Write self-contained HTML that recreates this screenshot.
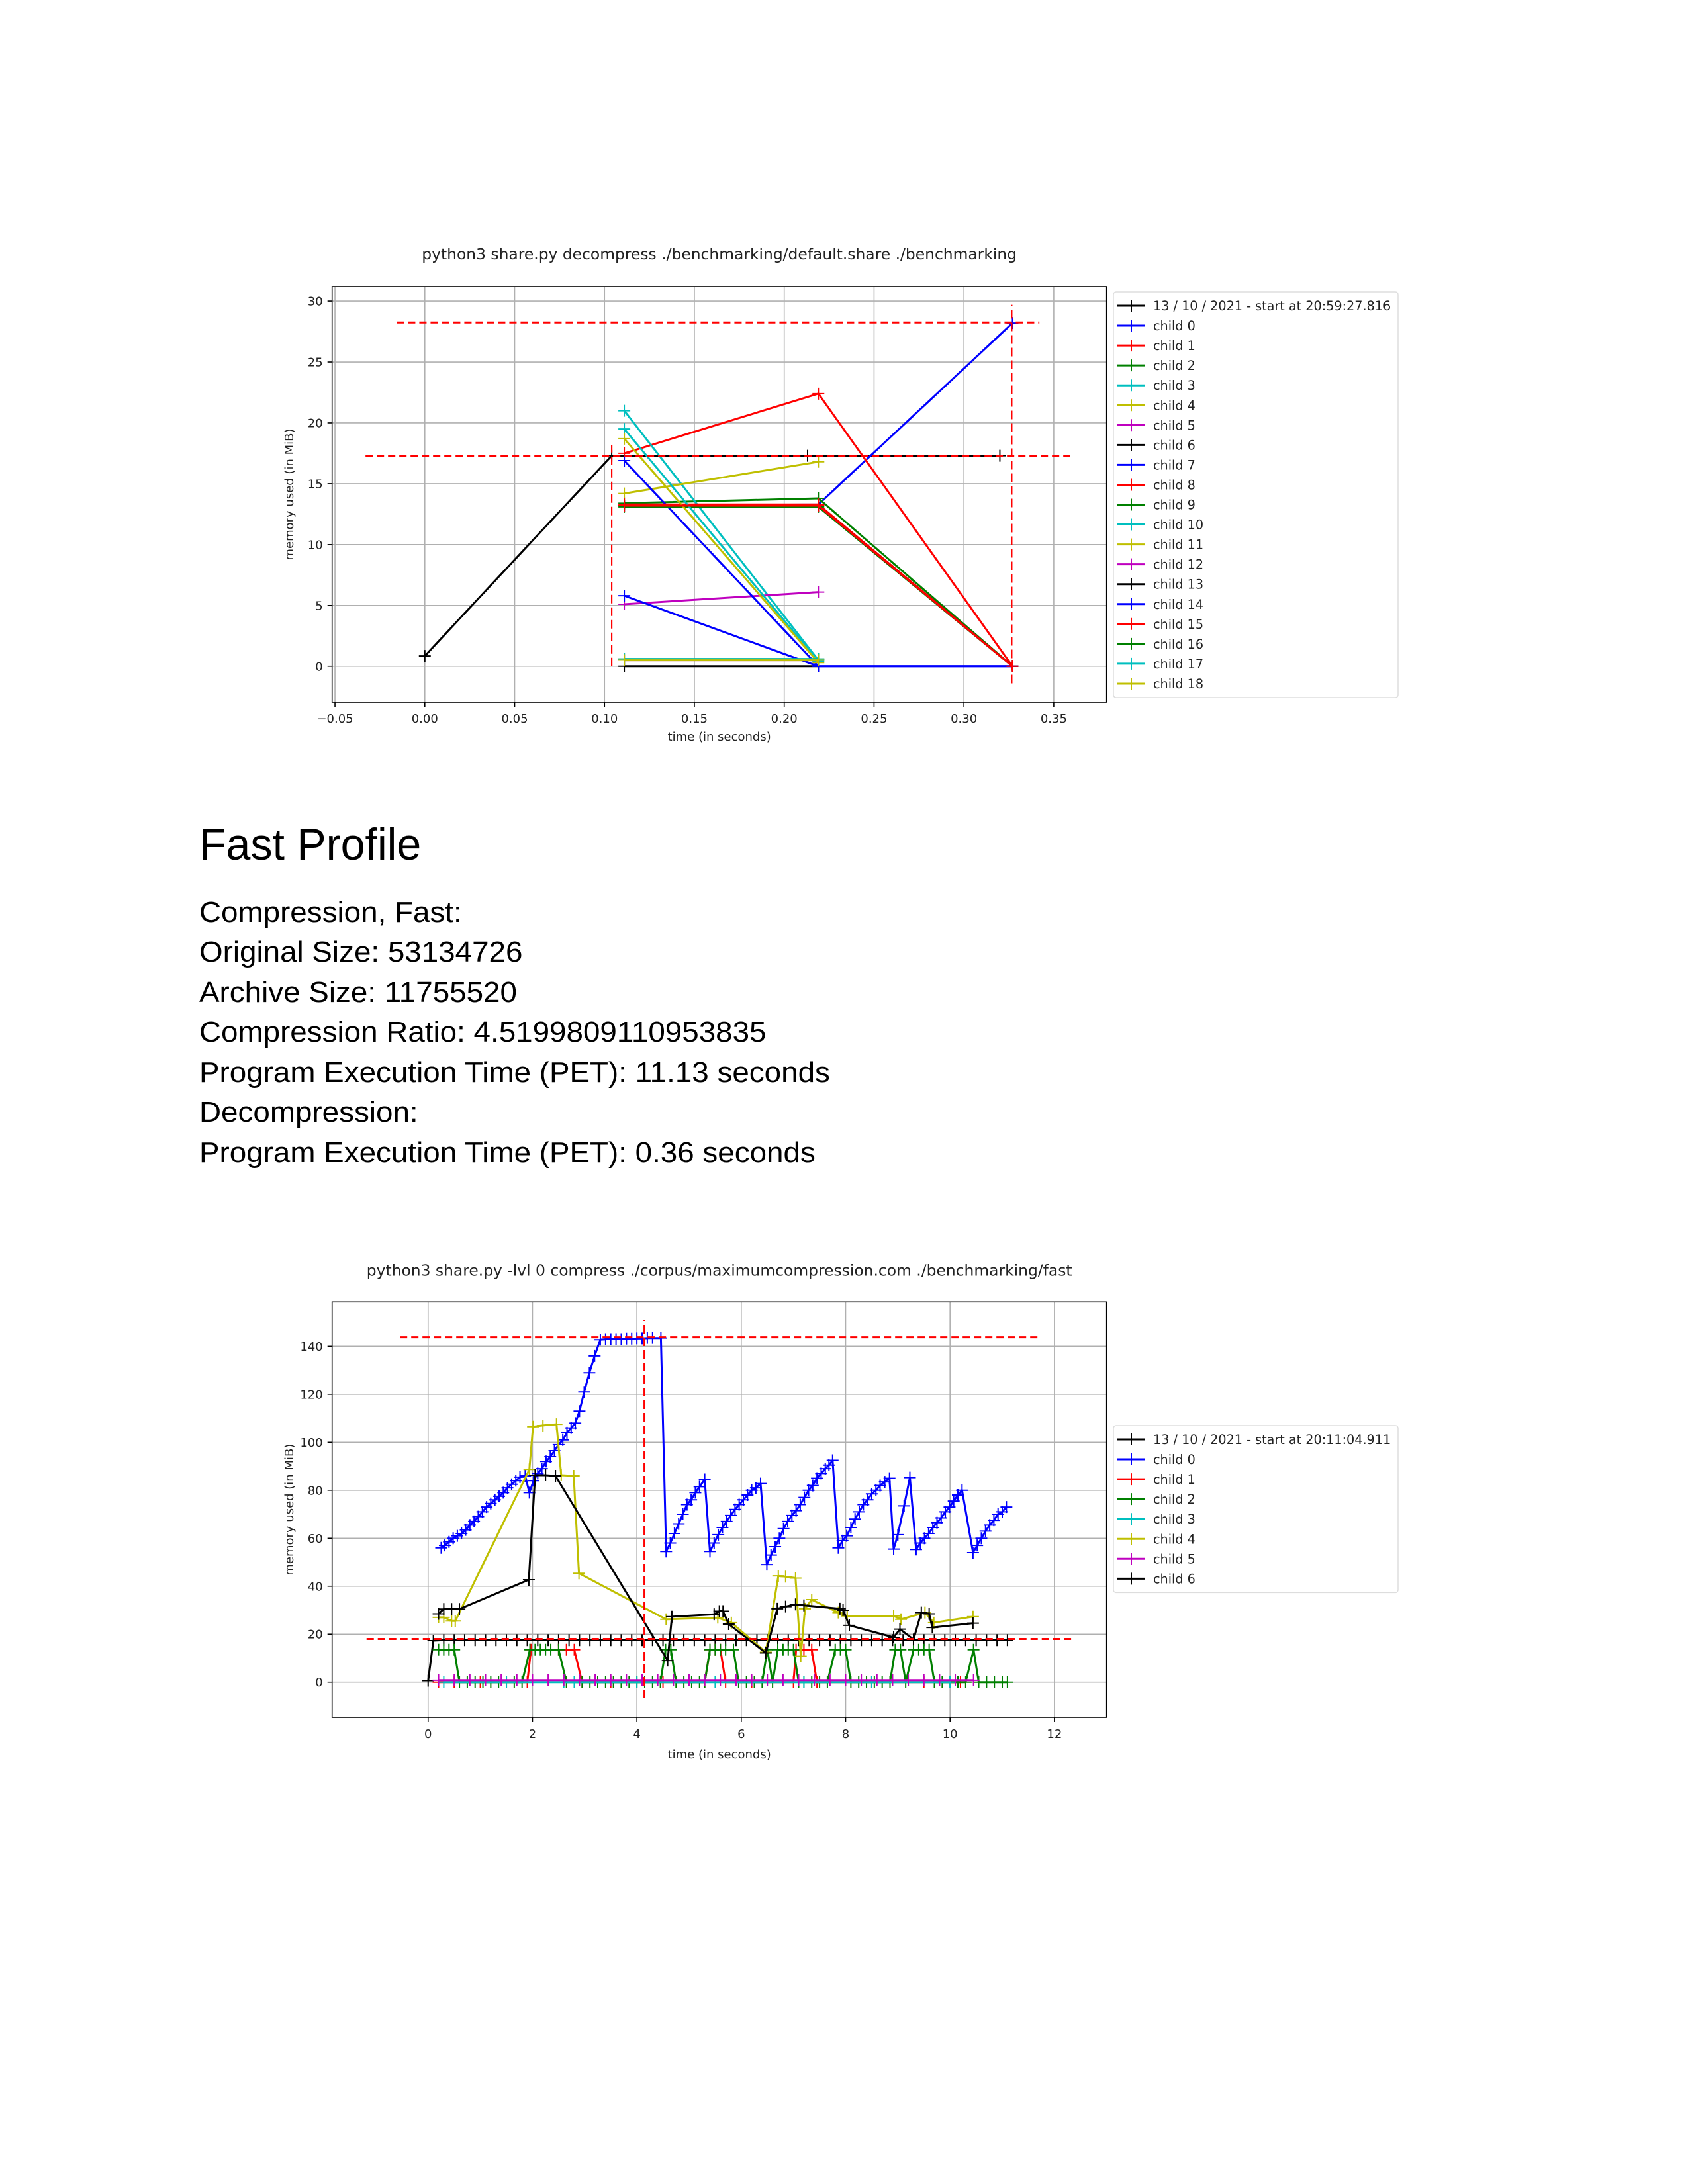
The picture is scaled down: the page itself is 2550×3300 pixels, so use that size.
<!DOCTYPE html>
<html><head><meta charset="utf-8"><title>Fast Profile benchmark</title>
<style>
html,body{margin:0;padding:0;background:#fff;}
body{width:2550px;height:3300px;position:relative;overflow:hidden;font-family:"Liberation Sans",Arial,sans-serif;}
#page{position:absolute;left:0;top:0;}
.txt{position:absolute;left:301px;font-family:"Liberation Sans",Arial,sans-serif;color:#000;white-space:nowrap;margin:0;transform-origin:0 0;}
.h{font-size:68px;line-height:68px;transform:scaleX(0.975);}
.l{font-size:44px;line-height:44px;transform:scaleX(1.04);}
</style></head>
<body>
<svg id="page" width="2550" height="3300" xmlns="http://www.w3.org/2000/svg">
  <g id="chart1"></g>
  <g id="chart2"></g>
</svg>
<div class="txt h" style="top:1242px;">Fast Profile</div>
<div class="txt l" style="top:1357px;">Compression, Fast:</div>
<div class="txt l" style="top:1417px;">Original Size: 53134726</div>
<div class="txt l" style="top:1478px;">Archive Size: 11755520</div>
<div class="txt l" style="top:1538px;">Compression Ratio: 4.5199809110953835</div>
<div class="txt l" style="top:1599px;">Program Execution Time (PET): 11.13 seconds</div>
<div class="txt l" style="top:1659px;">Decompression:</div>
<div class="txt l" style="top:1720px;">Program Execution Time (PET): 0.36 seconds</div>
<script>
// ---------- Chart 1 data ----------
const c1XTicks = [-0.05,0,0.05,0.1,0.15,0.2,0.25,0.3,0.35];
const c1XTickLabels = ["\u22120.05","0.00","0.05","0.10","0.15","0.20","0.25","0.30","0.35"];
const c1YTicks = [0,5,10,15,20,25,30];
const c1Names = ["13 / 10 / 2021 - start at 20:59:27.816","child 0","child 1","child 2","child 3","child 4","child 5","child 6","child 7","child 8","child 9","child 10","child 11","child 12","child 13","child 14","child 15","child 16","child 17","child 18"];
const c1Colors = ["#000000","#0000ff","#ff0000","#008000","#00bfbf","#bfbf00","#bf00bf","#000000","#0000ff","#ff0000","#008000","#00bfbf","#bfbf00","#bf00bf","#000000","#0000ff","#ff0000","#008000","#00bfbf","#bfbf00"];
const c1MainT = [0,0.104,0.213,0.32];
const c1MainV = [0.85,17.3,17.3,17.3];
const c1ChildT = [
 [0.111,0.219,0.327],[0.111,0.219,0.327],[0.111,0.219,0.327],[0.111,0.219],[0.111,0.219],[0.111,0.219],[0.111,0.219],
 [0.111,0.219,0.327],[0.111,0.219,0.327],[0.111,0.219,0.327],[0.111,0.219],[0.111,0.219],[0.111,0.219],[0.111,0.219,0.327],
 [0.111,0.219,0.327],[0.111,0.219,0.327],[0.111,0.219],[0.111,0.219],[0.111,0.219]];
const c1ChildV = [
 [13.2,13.3,28.2],[17.5,22.4,0],[13.4,13.8,0],[21.0,0.5],[14.2,16.8],[5.1,6.1],[0,0],
 [16.9,0,0],[13.3,13.3,0],[13.1,13.1,0],[19.5,0.4],[18.7,0.3],[0.5,0.5],[13.2,13.2,0],
 [5.8,0,0],[13.2,13.2,0],[0.6,0.6],[0.6,0.6],[0.5,0.5]];
const c1PeakH = [28.25,17.3];
const c1PeakHx = [[-0.0156,0.342],[-0.033,0.359]];
const c1PeakVx = [0.104,0.3266];
const c1PeakVy = [[0,18.2],[-1.4,29.7]];

// ---------- Chart 2 data ----------
const c2XTicks = [0,2,4,6,8,10,12];
const c2YTicks = [0,20,40,60,80,100,120,140];
const c2Names = ["13 / 10 / 2021 - start at 20:11:04.911","child 0","child 1","child 2","child 3","child 4","child 5","child 6"];
const c2Colors = ["#000000","#0000ff","#ff0000","#008000","#00bfbf","#bfbf00","#bf00bf","#000000"];
const c2MainT = [0,0.1,0.3,0.5,0.7,0.9,1.1,1.3,1.5,1.7,1.9,2.1,2.3,2.5,2.7,2.9,3.1,3.3,3.5,3.7,3.9,4.1,4.3,4.5,4.7,4.9,5.1,5.3,5.5,5.7,5.9,6.1,6.3,6.5,6.7,6.9,7.1,7.3,7.5,7.7,7.9,8.1,8.3,8.5,8.7,8.9,9.1,9.3,9.5,9.7,9.9,10.1,10.3,10.5,10.7,10.9,11.1];
const c2MainV = [0.6,17.3,17.5,17.5,17.5,17.5,17.5,17.5,17.5,17.5,17.5,17.5,17.5,17.5,17.5,17.5,17.5,17.5,17.5,17.5,17.5,17.5,17.5,17.5,17.5,17.5,17.5,17.5,17.5,17.5,17.5,17.5,17.5,17.5,17.5,17.5,17.5,17.5,17.5,17.5,17.5,17.5,17.5,17.5,17.5,17.5,17.5,17.5,17.5,17.5,17.5,17.5,17.5,17.5,17.5,17.5,17.5];
const c2Child0T = [0.25,0.32,0.4,0.48,0.56,0.64,0.72,0.8,0.88,0.96,1.04,1.12,1.2,1.28,1.36,1.44,1.52,1.6,1.68,1.76,1.86,
 1.94,2.02,2.1,2.18,2.26,2.34,2.42,2.5,2.58,2.66,2.74,2.82,2.9,2.99,3.09,3.19,3.3,
 3.4,3.5,3.6,3.7,3.8,3.9,4.0,4.1,4.2,4.3,4.46,
 4.56,4.64,4.72,4.8,4.88,4.96,5.04,5.12,5.2,5.3,
 5.4,5.48,5.56,5.64,5.72,5.8,5.88,5.96,6.04,6.12,6.2,6.28,6.37,
 6.49,6.57,6.65,6.73,6.81,6.89,6.97,7.05,7.13,7.21,7.29,7.37,7.45,7.53,7.61,7.68,7.75,
 7.86,7.94,8.02,8.1,8.18,8.26,8.34,8.42,8.5,8.58,8.66,8.75,8.84,
 8.92,9.0,9.12,9.23,
 9.35,9.43,9.51,9.59,9.67,9.75,9.83,9.91,9.99,10.07,10.15,10.23,
 10.44,10.52,10.6,10.68,10.76,10.84,10.92,11.0,11.08];
const c2Child0V = [56,57,58.5,60,61,62,63.5,65.5,67,69,71,73,74.5,76,77.5,79,81,82.5,84,85.5,86,
 79,84,87,89,92,94,96.5,99,101,104,106,108,113,121,129,136,142.8,
 143,143,143,143,143.2,143.2,143.3,143.3,143.5,143.5,143.5,
 54.5,58,62,66,70,74,76,79,81.5,84.5,
 54.5,58,61.5,64.5,67,69.5,72,74,76,78,80,81,82.8,
 49,53,56.5,60,64,67,69.5,71.5,74,77,80,82,85,87,89,90.5,92.5,
 56,59,61,64.5,68,71,74,76,78.5,80,82,83.5,85,
 55.5,61.5,73.5,85.3,
 55.3,58,60,62,64.5,66.5,68.5,71,73,75.5,78,80,
 54,57,60,63,65.5,67.5,70,71,73];
const c2Child1T = [0.2,0.5,1.0,1.5,1.9,1.97,2.5,2.65,2.8,2.95,3.5,4.5,5.3,5.4,5.5,5.6,5.7,6.2,7.0,7.05,7.2,7.35,7.45,8.5,9.5,10.2];
const c2Child1V = [0,0,0,0,0,13.5,13.5,13.5,13.5,0,0,0,0,13.5,13.5,13.5,0,0,0,13.5,13.5,13.5,0,0,0,0];
const c2Child2T = [0.2,0.3,0.4,0.5,0.6,0.75,0.9,1.05,1.2,1.35,1.5,1.65,1.8,1.95,2.05,2.15,2.25,2.35,2.5,2.65,2.8,2.95,3.1,3.25,3.4,3.55,3.7,3.85,4.0,4.15,4.3,4.45,4.55,4.65,4.75,4.9,5.05,5.2,5.3,5.4,5.5,5.6,5.7,5.85,5.95,6.1,6.25,6.4,6.5,6.6,6.7,6.8,6.9,7.0,7.1,7.2,7.35,7.5,7.65,7.8,7.9,8.0,8.1,8.25,8.4,8.55,8.7,8.85,8.95,9.05,9.15,9.3,9.4,9.5,9.6,9.7,9.85,10.0,10.15,10.3,10.45,10.55,10.7,10.85,11.0,11.1];
const c2Child2V = [13.5,13.5,13.5,13.5,0,0,0,0,0,0,0,0,0,13.5,13.5,13.5,13.5,13.5,13.5,0,0,0,0,0,0,0,0,0,0,0,0,0,13.5,13.5,0,0,0,0,0,13.5,13.5,13.5,13.5,13.5,0,0,0,0,13.5,0,13.5,13.5,13.5,13.5,0,0,0,0,0,13.5,13.5,13.5,0,0,0,0,0,0,13.5,13.5,0,13.5,13.5,13.5,13.5,0,0,0,0,0,13.5,0,0,0,0,0];
const c2Child3T = [0.3,1.5,2.6,2.8,4.0,5.5,7.2,8.5,10.0];
const c2Child3V = [0,0,0,0,0,0,0,0,0];
const c2Child4T = [0.2,0.3,0.45,0.52,1.94,2.01,2.2,2.46,2.55,2.79,2.89,4.56,5.55,5.81,6.47,6.71,6.85,7.04,7.14,7.22,7.35,7.86,8.03,8.92,9.06,9.52,9.69,10.44];
const c2Child4V = [27,27,25.5,25.5,88.7,106.5,107,107.5,86.3,86,45.4,26.2,26.9,24.8,12.5,44.3,44,43.4,10.8,30.6,34.4,29,27.6,27.6,26.2,29,24.8,27.3];
const c2Child5T = [0.2,0.5,0.8,1.1,1.4,1.7,2.0,2.3,2.6,2.9,3.2,3.5,3.8,4.1,4.4,4.7,5.0,5.3,5.6,5.9,6.2,6.5,6.8,7.1,7.4,7.7,8.0,8.3,8.6,8.9,9.2,9.5,9.8,10.1,10.45];
const c2Child5V = [0.8,0.8,0.8,0.8,0.8,0.8,0.8,0.8,0.8,0.8,0.8,0.8,0.8,0.8,0.8,0.8,0.8,0.8,0.8,0.8,0.8,0.8,0.8,0.8,0.8,0.8,0.8,0.8,0.8,0.8,0.8,0.8,0.8,0.8,0.8];
const c2Child6T = [0.2,0.3,0.45,0.6,1.93,2.05,2.25,2.44,4.59,4.67,5.48,5.58,5.65,5.76,6.47,6.69,6.85,7.04,7.2,7.89,7.95,8.07,8.92,9.04,9.3,9.45,9.6,9.66,10.44];
const c2Child6V = [28.5,30.5,30.5,30.5,42.7,86.3,86.3,86,9,27.3,28.3,29.6,29.6,24.2,12.2,30.6,31.5,32.4,32,30.6,30,23.7,18.7,22.1,17.8,29,28.5,22.8,24.6];
const c2PeakH = [143.8,18.0];
const c2PeakHx = [[-0.54,11.69],[-1.18,12.32]];
const c2PeakVx = [4.14];
const c2PeakVy = [[-6.7,151]];

// ---------- drawing ----------
const NS = "http://www.w3.org/2000/svg";
function mk(parent, tag, attrs){
  const e = document.createElementNS(NS, tag);
  for (const k in attrs) e.setAttribute(k, attrs[k]);
  parent.appendChild(e);
  return e;
}
function makeAxes(box, xlim, ylim){
  const sx = v => box.L + (v - xlim[0]) / (xlim[1] - xlim[0]) * (box.R - box.L);
  const sy = v => box.B - (v - ylim[0]) / (ylim[1] - ylim[0]) * (box.B - box.T);
  return {sx, sy};
}
function drawFrame(g, box, ax, xt, xtl, yt, title, titleName){
  const grid = mk(g, "g", {});
  
  
  xt.forEach((v,i) => {
    const x = ax.sx(v);
    mk(grid, "line", {x1:x, x2:x, y1:box.T, y2:box.B, stroke:"#b0b0b0", "stroke-width":1.6});
    mk(g, "line", {x1:x, x2:x, y1:box.B, y2:box.B+7, stroke:"#000", "stroke-width":1.6});
    const t = mk(g, "text", {x:x, y:box.B+31, "text-anchor":"middle", "font-family":"DejaVu Sans, sans-serif", "font-size":18, fill:"#222"});
    
    
    t.textContent = xtl ? xtl[i] : String(v);
  });
  yt.forEach(v => {
    const y = ax.sy(v);
    mk(grid, "line", {x1:box.L, x2:box.R, y1:y, y2:y, stroke:"#b0b0b0", "stroke-width":1.6});
    mk(g, "line", {x1:box.L-7, x2:box.L, y1:y, y2:y, stroke:"#000", "stroke-width":1.6});
    const t = mk(g, "text", {x:box.L-14, y:y+6.5, "text-anchor":"end", "font-family":"DejaVu Sans, sans-serif", "font-size":18, fill:"#222"});
    
    
    t.textContent = String(v);
  });
  const tt = mk(g, "text", {x:(box.L+box.R)/2, y:box.T+title.dy, "text-anchor":"middle", "font-family":"DejaVu Sans, sans-serif", "font-size":23.4, fill:"#222"});
  
  
  tt.textContent = title.text;
  const xl = mk(g, "text", {x:(box.L+box.R)/2, y:box.B+title.xl, "text-anchor":"middle", "font-family":"DejaVu Sans, sans-serif", "font-size":18, fill:"#222"});
  
  
  xl.textContent = "time (in seconds)";
  const cy = (box.T+box.B)/2;
  const yl = mk(g, "text", {x:443, y:cy, "text-anchor":"middle", "font-family":"DejaVu Sans, sans-serif", "font-size":18, fill:"#222", transform:"rotate(-90 443 "+cy+")"});
  
  
  yl.textContent = "memory used (in MiB)";
}
function drawSeries(g, ax, ts, vs, color, name, lw){
  const n = Math.min(ts.length, vs.length);
  const s = mk(g, "g", {});
  
  
  let d = "";
  for (let i=0;i<n;i++) d += (i?"L":"M") + ax.sx(ts[i]).toFixed(1) + " " + ax.sy(vs[i]).toFixed(1);
  mk(s, "path", {d:d, fill:"none", stroke:color, "stroke-width":lw, "stroke-linejoin":"round"});
  for (let i=0;i<n;i++){
    const x = ax.sx(ts[i]), y = ax.sy(vs[i]);
    const m = mk(s, "path", {d:"M"+(x-9)+" "+y+"H"+(x+9)+"M"+x+" "+(y-9)+"V"+(y+9), stroke:color, "stroke-width":2});
    
    
  }
}
function drawPeaks(g, ax, hv, hx, vx, vy){
  hv.forEach((v,i) => {
    const l = mk(g, "line", {x1:ax.sx(hx[i][0]), x2:ax.sx(hx[i][1]), y1:ax.sy(v), y2:ax.sy(v), stroke:"#ff0000", "stroke-width":3, "stroke-dasharray":"11 6"});
    
    
  });
  vx.forEach((v,i) => {
    const l = mk(g, "line", {x1:ax.sx(v), x2:ax.sx(v), y1:ax.sy(vy[i][0]), y2:ax.sy(vy[i][1]), stroke:"#ff0000", "stroke-width":2.2, "stroke-dasharray":"13 6"});
    
    
  });
}
function drawLegend(g, x, y, w, names, colors){
  const sp = 30.05;
  const h = names.length*sp + 12;
  const lg = mk(g, "g", {});
  
  
  mk(lg, "rect", {x:x, y:y, width:w, height:h, rx:4, fill:"#fff", stroke:"#dddddd", "stroke-width":1.5});
  names.forEach((nm,i) => {
    const cy = y + 21 + i*sp;
    const e = mk(lg, "g", {});
    
    
    mk(e, "line", {x1:x+6, x2:x+47, y1:cy, y2:cy, stroke:colors[i], "stroke-width":3});
    mk(e, "path", {d:"M"+(x+18)+" "+cy+"H"+(x+36)+"M"+(x+27)+" "+(cy-9)+"V"+(cy+9), stroke:colors[i], "stroke-width":2});
    const t = mk(e, "text", {x:x+60, y:cy+7, "font-family":"DejaVu Sans, sans-serif", "font-size":19.2, fill:"#222"});
    t.textContent = nm;
  });
}
function clipFor(id, box){
  const defs = mk(document.getElementById("page"), "defs", {});
  const cp = mk(defs, "clipPath", {id:id});
  mk(cp, "rect", {x:box.L, y:box.T, width:box.R-box.L, height:box.B-box.T});
}

// Chart 1
(function(){
  const g = document.getElementById("chart1");
  const box = {L:501.7, R:1671.7, T:433, B:1061};
  const ax = makeAxes(box, [-0.0516,0.3794], [-2.95,31.2]);
  drawFrame(g, box, ax, c1XTicks, c1XTickLabels, c1YTicks, {text:"python3 share.py decompress ./benchmarking/default.share ./benchmarking", dy:-41, xl:58}, "chart-title");
  clipFor("clip1", box);
  const plot = mk(g, "g", {"clip-path":"url(#clip1)"});
  
  
  drawSeries(plot, ax, c1MainT, c1MainV, c1Colors[0], "series-main", 3);
  c1ChildT.forEach((ts,i) => drawSeries(plot, ax, ts, c1ChildV[i], c1Colors[i+1], "series-child-"+i, 3));
  drawPeaks(plot, ax, c1PeakH, c1PeakHx, c1PeakVx, c1PeakVy);
  mk(g, "rect", {x:box.L, y:box.T, width:box.R-box.L, height:box.B-box.T, fill:"none", stroke:"#000", "stroke-width":1.6});
  drawLegend(g, 1682, 441, 430, c1Names, c1Colors);
})();

// Chart 2
(function(){
  const g = document.getElementById("chart2");
  const box = {L:501.7, R:1671.7, T:1967.3, B:2595};
  const ax = makeAxes(box, [-1.84,13.0], [-14.7,158.5]);
  drawFrame(g, box, ax, c2XTicks, null, c2YTicks, {text:"python3 share.py -lvl 0 compress ./corpus/maximumcompression.com ./benchmarking/fast", dy:-40, xl:62}, "chart-title");
  clipFor("clip2", box);
  const plot = mk(g, "g", {"clip-path":"url(#clip2)"});
  
  
  drawSeries(plot, ax, c2MainT, c2MainV, c2Colors[0], "series-main", 3);
  drawSeries(plot, ax, c2Child0T, c2Child0V, c2Colors[1], "series-child-0", 3);
  drawSeries(plot, ax, c2Child1T, c2Child1V, c2Colors[2], "series-child-1", 3);
  drawSeries(plot, ax, c2Child2T, c2Child2V, c2Colors[3], "series-child-2", 3);
  drawSeries(plot, ax, c2Child3T, c2Child3V, c2Colors[4], "series-child-3", 3);
  drawSeries(plot, ax, c2Child4T, c2Child4V, c2Colors[5], "series-child-4", 3);
  drawSeries(plot, ax, c2Child5T, c2Child5V, c2Colors[6], "series-child-5", 3);
  drawSeries(plot, ax, c2Child6T, c2Child6V, c2Colors[7], "series-child-6", 3);
  drawPeaks(plot, ax, c2PeakH, c2PeakHx, c2PeakVx, c2PeakVy);
  mk(g, "rect", {x:box.L, y:box.T, width:box.R-box.L, height:box.B-box.T, fill:"none", stroke:"#000", "stroke-width":1.6});
  drawLegend(g, 1682, 2154, 430, c2Names, c2Colors);
})();
</script>
</body></html>
